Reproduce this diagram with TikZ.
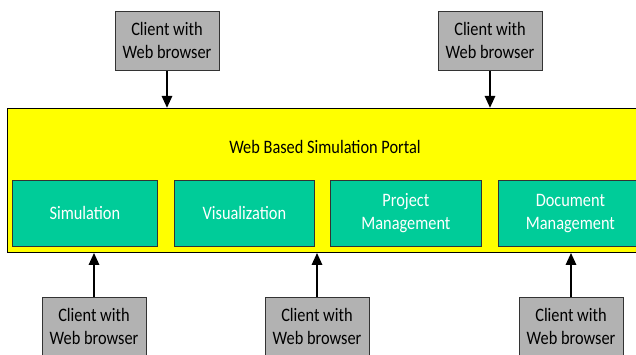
\documentclass[tikz,border=0pt]{standalone}
\usepackage{fontspec}
\setmainfont{Carlito}[FakeStretch=0.86]
\usetikzlibrary{arrows.meta}
\definecolor{portalyellow}{HTML}{FFFF00}
\definecolor{modgreen}{HTML}{00CC99}
\definecolor{clientgray}{HTML}{B2B2B2}
\definecolor{edgegray}{HTML}{333333}
\begin{document}
\begin{tikzpicture}[x=1pt,y=-1pt,
  client/.style={draw=edgegray,line width=0.8pt,fill=clientgray,minimum width=104pt,minimum height=59pt,
    inner sep=0pt,align=center,font=\fontsize{19}{23}\selectfont,text=black,anchor=north},
  module/.style={draw=edgegray,line width=0.8pt,fill=modgreen,minimum height=66pt,inner sep=0pt,
    align=center,font=\fontsize{19}{23}\selectfont,text=white,anchor=north west},
  conn/.style={line width=2.6pt,-{Triangle[length=12pt,width=10pt]}}]
\useasboundingbox (0,0) rectangle (636,355);
\clip (0,0) rectangle (636,355);
\fill[white] (0,0) rectangle (636,355);
% portal
\node[draw=black,line width=0.8pt,fill=portalyellow,minimum width=640pt,minimum height=144pt,inner sep=0pt,anchor=north west]
  (portal) at (7,108) {};
\node[font=\fontsize{19}{23}\selectfont] (title) at (325,147) {Web Based Simulation Portal};
% modules
\node[module,minimum width=145pt] (sim) at (12,180) {Simulation};
\node[module,minimum width=140pt] (vis) at (174,180) {Visualization};
\node[module,minimum width=151pt] (proj) at (330,180) {Project\\Management};
\node[module,minimum width=144pt] (doc) at (498,180) {Document\\Management};
% top clients
\node[client] (t1) at (167,11) {Client with\\Web browser};
\node[client] (t2) at (490,11) {Client with\\Web browser};
% bottom clients
\node[client] (b1) at (94,297) {Client with\\Web browser};
\node[client] (b2) at (317,297) {Client with\\Web browser};
\node[client] (b3) at (571,297) {Client with\\Web browser};
% connectors
\draw[conn] (t1.south) -- (t1.south |- portal.north);
\draw[conn] (t2.south) -- (t2.south |- portal.north);
\draw[conn] (b1.north) -- (b1.north |- portal.south);
\draw[conn] (b2.north) -- (b2.north |- portal.south);
\draw[conn] (b3.north) -- (b3.north |- portal.south);
\end{tikzpicture}
\end{document}
